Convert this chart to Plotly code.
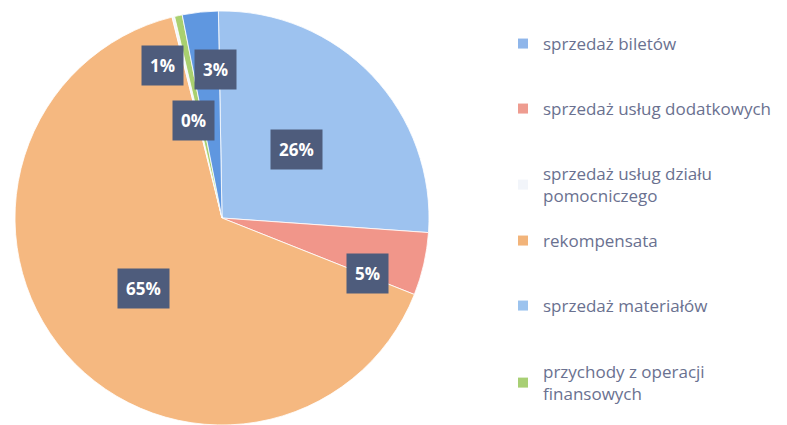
import math
import plotly.graph_objects as go

# ---- data (legend order) ----
categories = [
    "sprzedaż biletów",
    "sprzedaż usług dodatkowych",
    "sprzedaż usług działu<br>pomocniczego",
    "rekompensata",
    "sprzedaż materiałów",
    "przychody z operacji<br>finansowych",
]
values = [26.4, 4.9, 0.2, 65.1, 2.8, 0.6]
colors = ["#9DC2EF", "#F1968A", "#F3F6FB", "#F5B880", "#5F97E0", "#A9D06F"]
legend_colors = ["#8FB6EA", "#EE9C90", "#F2F5FA", "#F2B47A", "#9CC3EE", "#A8CF74"]

# order of slices clockwise from the top (indices into categories)
slice_order = [0, 1, 3, 2, 5, 4]

# ---- styling ----
W, H = 787, 425
DOM_X = [7 / W, 421 / W]
DOM_Y = [8 / H, 422 / H]
ROTATION = -1
# label placement: radius fraction and angle offset (deg) from slice mid-angle
LABEL_R = {0: 0.49, 1: 0.75, 2: 0.49, 3: 0.51, 4: 0.72, 5: 0.79}
LABEL_DA = {0: 1.0, 1: 8.0, 2: -2.5, 3: -0.7, 4: 3.4, 5: -9.0}
# legend rows: top of each legend box (px from top of figure)
LEGEND_TOPS = [18, 83, 148, 215, 280, 346]
LEGEND_X = 495

fig = go.Figure()

ordered_labels = [categories[i] for i in slice_order]
ordered_values = [values[i] for i in slice_order]
ordered_colors = [colors[i] for i in slice_order]

fig.add_trace(go.Pie(
    labels=ordered_labels,
    values=ordered_values,
    sort=False,
    direction="clockwise",
    rotation=ROTATION,
    marker=dict(colors=ordered_colors, line=dict(color="rgba(255,255,255,0.8)", width=1)),
    textinfo="none",
    hoverinfo="label+percent",
    showlegend=False,
    domain=dict(x=DOM_X, y=DOM_Y),
))

legend_font = dict(family="Open Sans", size=17, color="#6A7190")
layout_legends = {}
for i, name in enumerate(categories):
    key = "legend" if i == 0 else f"legend{i + 1}"
    fig.add_trace(go.Scatter(
        x=[None], y=[None], mode="markers", name=name,
        legend=key,
        marker=dict(symbol="square", size=10, color=legend_colors[i]),
    ))
    layout_legends[key] = dict(
        x=LEGEND_X / W, y=1 - LEGEND_TOPS[i] / H, xanchor="left", yanchor="top",
        font=legend_font, bgcolor="rgba(0,0,0,0)",
    )

# data labels computed from slice angles
total = sum(values)
R_px = min((DOM_X[1] - DOM_X[0]) * W, (DOM_Y[1] - DOM_Y[0]) * H) / 2
cx = (DOM_X[0] + DOM_X[1]) / 2 * W
cy = (DOM_Y[0] + DOM_Y[1]) / 2 * H  # from bottom
angle = ROTATION
for i in slice_order:
    span = values[i] / total * 360
    mid = angle + span / 2 + LABEL_DA[i]
    r = LABEL_R[i] * R_px
    px = cx + r * math.sin(math.radians(mid))
    py = cy + r * math.cos(math.radians(mid))
    fig.add_annotation(
        x=px / W, y=py / H, xref="paper", yref="paper",
        text=f"<b>{round(values[i] / total * 100)}%</b>",
        showarrow=False,
        font=dict(family="Open Sans", size=17, color="white"),
        bgcolor="#4E5C7C", borderpad=8,
        xanchor="center", yanchor="middle",
    )
    angle += span

fig.update_layout(
    width=W, height=H,
    margin=dict(l=0, r=0, t=0, b=0),
    paper_bgcolor="white", plot_bgcolor="white",
    xaxis=dict(visible=False), yaxis=dict(visible=False),
    showlegend=True,
    **layout_legends,
)

fig.write_html("out.html")
